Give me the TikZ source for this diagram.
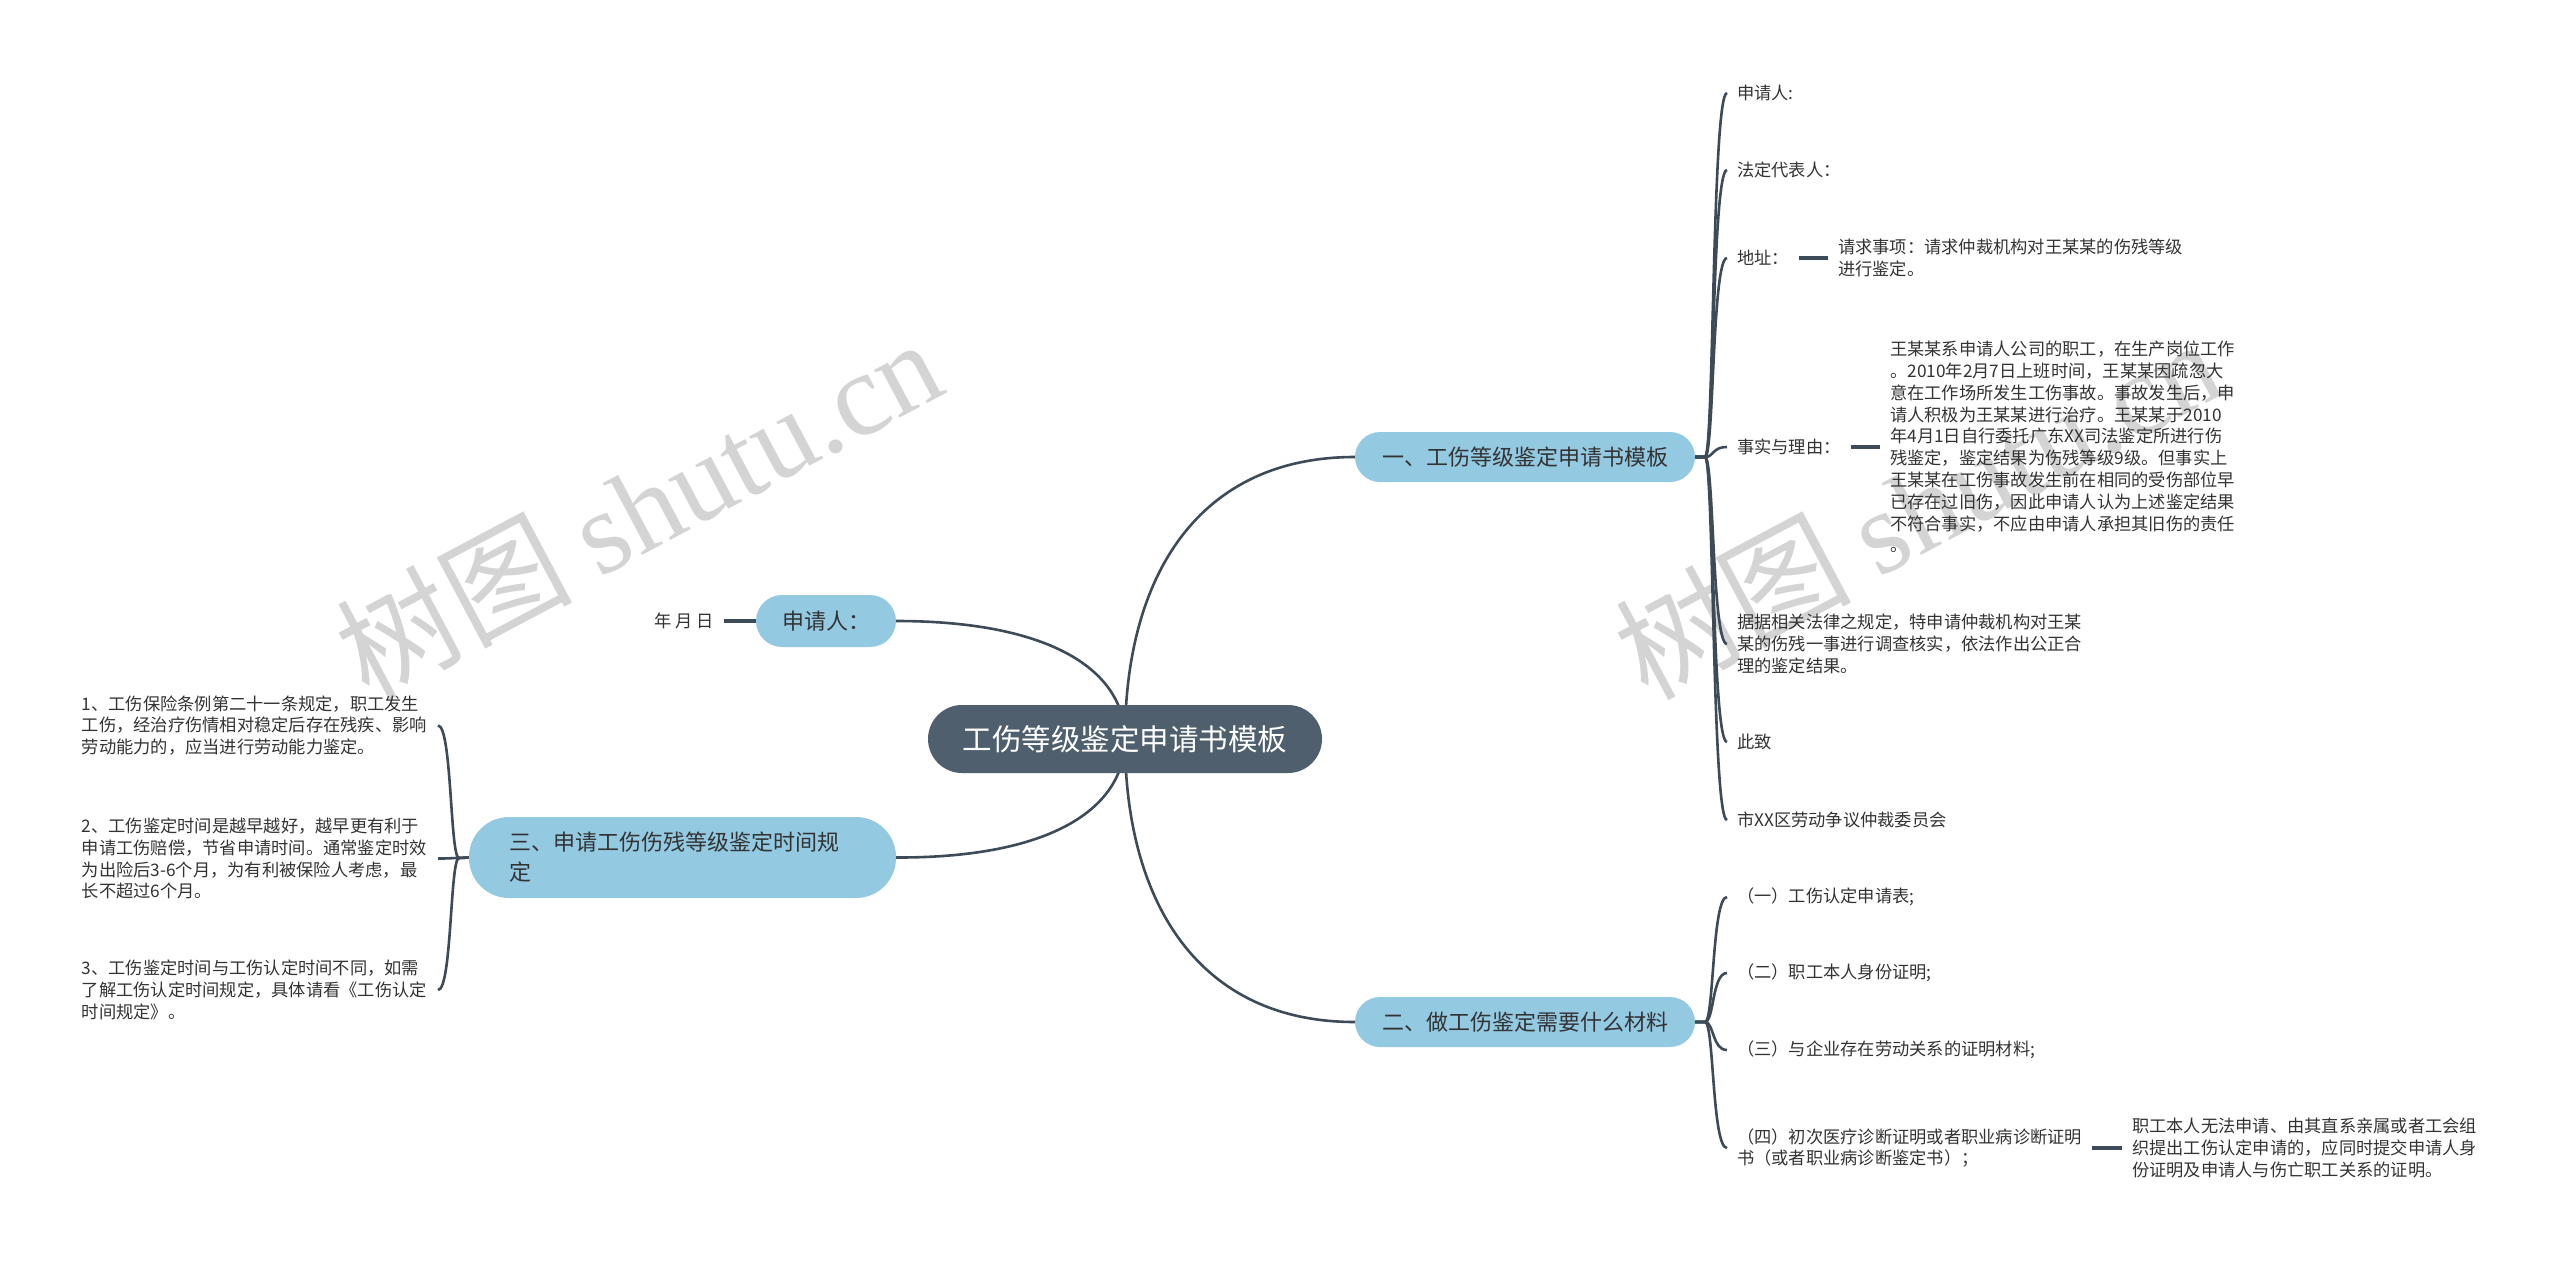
\documentclass[tikz,border=0pt]{standalone}
\usepackage{fontspec}
\setmainfont{Noto Sans CJK SC}
\newfontfamily\wmlatin{Liberation Serif}
\usetikzlibrary{backgrounds}
\definecolor{lineC}{HTML}{3D4B58}
\definecolor{rootC}{HTML}{4F5F6D}
\definecolor{blueC}{HTML}{94C9E2}
\definecolor{txtC}{HTML}{333333}
\definecolor{wmC}{HTML}{D4D4D4}
\begin{document}
\begin{tikzpicture}[x=1pt,y=-1pt,
  conn/.style={draw=lineC, line width=2.6pt},
  stub/.style={draw=lineC, line width=3.2pt},
  rootnode/.style={fill=rootC, text=white, rounded corners=34pt, minimum width=394pt, minimum height=68pt, font=\fontsize{29.5}{34}\selectfont, inner sep=0pt},
  mainnode/.style={fill=blueC, text=txtC, rounded corners=25pt, minimum height=50pt, font=\fontsize{22}{30}\selectfont, inner sep=0pt},
  leaf/.style={text=txtC, font=\fontsize{17.25}{21.8}\selectfont, inner xsep=10pt, inner ysep=0pt, align=left},
  wmark/.style={text=wmC, rotate=28, font=\fontsize{118}{130}\selectfont, inner sep=0pt},
]
\useasboundingbox (0,0) rectangle (2560,1264);

% main nodes
\node[rootnode] (c) at (1125,739) {工伤等级鉴定申请书模板};
\node[mainnode, minimum width=340pt] (b1) at (1525,457) {一、工伤等级鉴定申请书模板};
\node[mainnode, minimum width=340pt] (b2) at (1525,1022) {二、做工伤鉴定需要什么材料};
\node[mainnode, minimum width=140pt, minimum height=52pt, rounded corners=26pt] (sq) at (826,621) {申请人：};
\node[mainnode, minimum width=427pt, minimum height=81pt, rounded corners=40pt, text width=347pt, align=left] (b3) at (682.5,857.5) {三、申请工伤伤残等级鉴定时间规\\定};

% branch 1 leaves
\node[leaf, anchor=west] (r1) at (1727,93) {申请人:};
\node[leaf, anchor=west] (r2) at (1727,170) {法定代表人：};
\node[leaf, anchor=west] (r3) at (1727,258) {地址：};
\node[leaf, anchor=west] (rq) at (1828,258) {请求事项：请求仲裁机构对王某某的伤残等级\\进行鉴定。};
\node[leaf, anchor=west] (r4) at (1727,447) {事实与理由：};
\node[leaf, anchor=west] (rp) at (1880,447) {王某某系申请人公司的职工，在生产岗位工作\\。2010年2月7日上班时间，王某某因疏忽大\\意在工作场所发生工伤事故。事故发生后，申\\请人积极为王某某进行治疗。王某某于2010\\年4月1日自行委托广东XX司法鉴定所进行伤\\残鉴定，鉴定结果为伤残等级9级。但事实上\\王某某在工伤事故发生前在相同的受伤部位早\\已存在过旧伤，因此申请人认为上述鉴定结果\\不符合事实，不应由申请人承担其旧伤的责任\\。};
\node[leaf, anchor=west] (r5) at (1727,644) {据据相关法律之规定，特申请仲裁机构对王某\\某的伤残一事进行调查核实，依法作出公正合\\理的鉴定结果。};
\node[leaf, anchor=west] (r6) at (1727,742) {此致};
\node[leaf, anchor=west] (r7) at (1727,820) {市XX区劳动争议仲裁委员会};

% branch 2 leaves
\node[leaf, anchor=west] (s1) at (1727,897) {（一）工伤认定申请表;};
\node[leaf, anchor=west] (s2) at (1727,973) {（二）职工本人身份证明;};
\node[leaf, anchor=west] (s3) at (1727,1050) {（三）与企业存在劳动关系的证明材料;};
\node[leaf, anchor=west] (s4) at (1727,1148) {（四）初次医疗诊断证明或者职业病诊断证明\\书（或者职业病诊断鉴定书）；};
\node[leaf, anchor=west] (sr) at (2122,1148) {职工本人无法申请、由其直系亲属或者工会组\\织提出工伤认定申请的，应同时提交申请人身\\份证明及申请人与伤亡职工关系的证明。};

% left leaves
\node[leaf, anchor=east] (ymd) at (724,621) {年 月 日};
\node[leaf, anchor=east, text width=346pt] (l1) at (438,725.5) {1、工伤保险条例第二十一条规定，职工发生\\工伤，经治疗伤情相对稳定后存在残疾、影响\\劳动能力的，应当进行劳动能力鉴定。};
\node[leaf, anchor=east, text width=346pt] (l2) at (438,858.5) {2、工伤鉴定时间是越早越好，越早更有利于\\申请工伤赔偿，节省申请时间。通常鉴定时效\\为出险后3-6个月，为有利被保险人考虑，最\\长不超过6个月。};
\node[leaf, anchor=east, text width=346pt] (l3) at (438,990) {3、工伤鉴定时间与工伤认定时间不同，如需\\了解工伤认定时间规定，具体请看《工伤认定\\时间规定》。};

\begin{scope}[on background layer]
  \fill[white] (0,0) rectangle (2560,1264);
  % watermarks
  \node[wmark] (wm1) at (638,507) {树图 {\wmlatin shutu.cn}};
  \node[wmark] (wm2) at (1917,507) {树图 {\wmlatin shutu.cn}};
  % root connectors
  \draw[conn] (c.center) .. controls (1125,575) and (1199,457) .. (b1.west);
  \draw[conn] (c.center) .. controls (1125,903) and (1199,1022) .. (b2.west);
  \draw[conn] (c.center) .. controls (1125,671) and (1052,621) .. (sq.east);
  \draw[conn] (c.center) .. controls (1125,808) and (1052,858) .. (b3.east);
  % right brackets
  \foreach \n/\y in {r1/93,r2/170,r3/258,r4/447,r5/644,r6/742,r7/820}
    \draw[conn] (b1.east) -- (1705,457) .. controls (1714,457) and (1712,\y) .. (\n.west);
  \foreach \n/\y in {s1/897,s2/973,s3/1050,s4/1148}
    \draw[conn] (b2.east) -- (1705,1022) .. controls (1714,1022) and (1712,\y) .. (\n.west);
  % left bracket
  \foreach \n/\y in {l1/725.5,l2/858.5,l3/990}
    \draw[conn] (b3.west) -- (459,858) .. controls (450,858) and (452,\y) .. (\n.east);
  % stubs
  \draw[stub] (r3.east) -- (rq.west);
  \draw[stub] (r4.east) -- (rp.west);
  \draw[stub] (s4.east) -- (sr.west);
  \draw[stub] (ymd.east) -- (sq.west);
\end{scope}
\end{tikzpicture}
\end{document}
